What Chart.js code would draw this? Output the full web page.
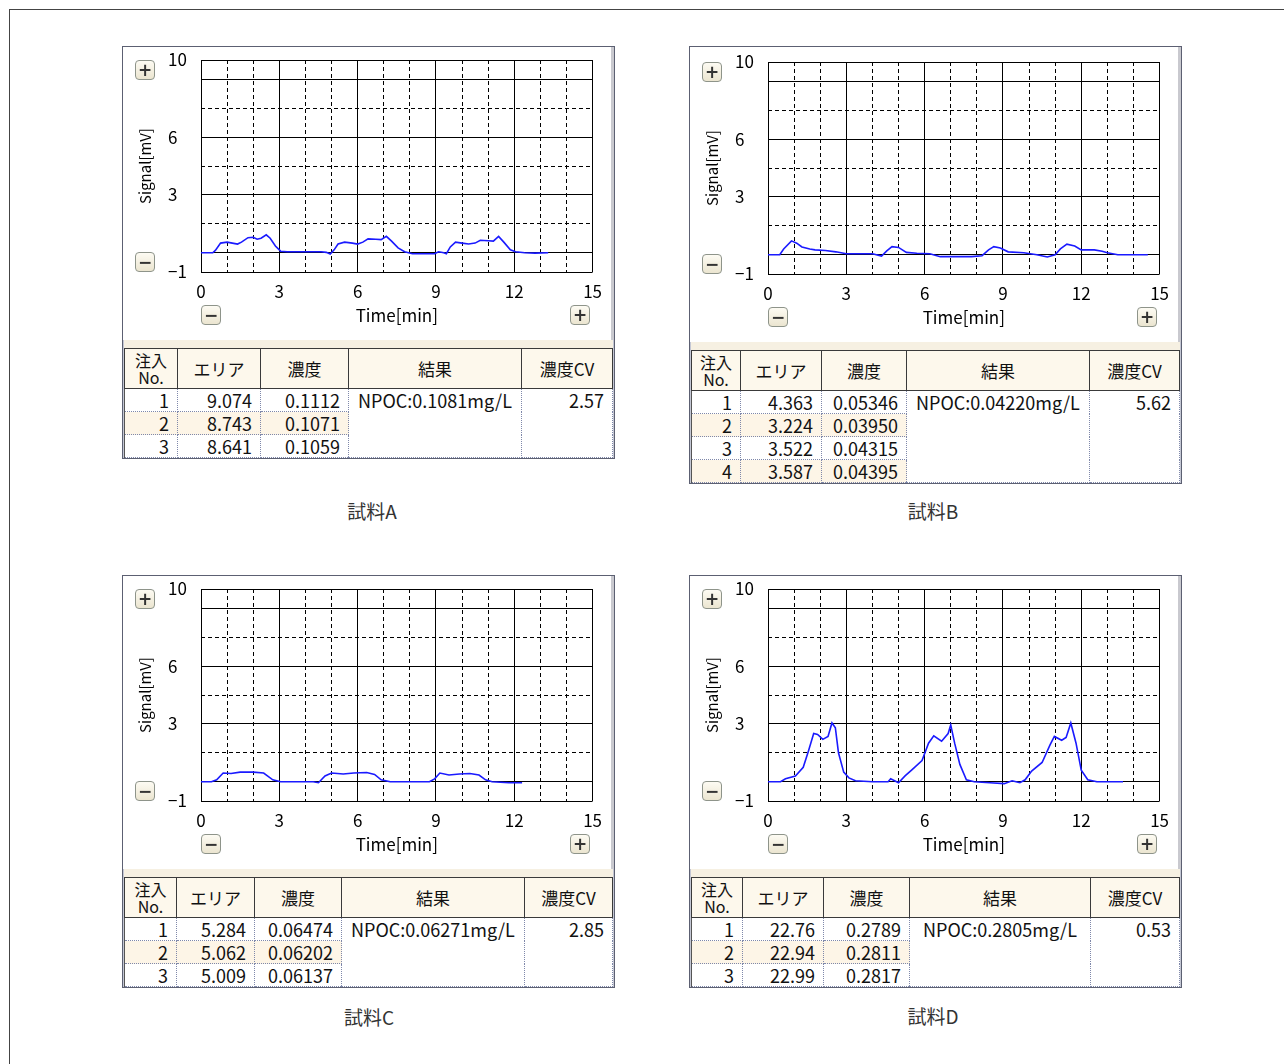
<!DOCTYPE html>
<html lang="ja">
<head>
<meta charset="utf-8">
<script src="https://cdn.jsdelivr.net/npm/chart.js@4.4.0/dist/chart.umd.min.js"></script>
<style>
  body { margin:0; width:1284px; height:1064px; background:#fff; position:relative; overflow:hidden;
         font-family:"Noto Sans CJK JP","Noto Sans",sans-serif; color:#111; }
  .page { position:absolute; left:9px; top:9px; width:1400px; height:1200px; border:1px solid #444; }
  .box { position:absolute; width:491px; border:1px solid #5c6072; box-shadow: inset 0 0 0 1px #c4c7d4; background:#f6f0e2; }
  .plotwrap { position:relative; width:488px; height:293px; background:#fff; border-right:3px solid #c9c9cf; }
  .plotwrap canvas { position:absolute; left:0; top:0; }
  .btn { position:absolute; width:18px; height:18px; border:1px solid #8e948a; border-radius:4px;
         background:linear-gradient(#fdfbf3,#ebe5d0); font:bold 17px/18px "DejaVu Sans",sans-serif; text-align:center; color:#333; }
  .band { height:8px; }
  table { border-collapse:collapse; table-layout:fixed; margin-left:1px; background:#fff; font-size:18px; }
  th { background:#fdf8ec; font-weight:normal; font-size:17px; border:1px solid #3a3a3a; height:39px; padding:0; line-height:20px; }
  th.no { font-size:16px; line-height:17px; }
  td { border-right:1px dotted #7f88aa; border-bottom:1px dotted #7f88aa; height:22px; padding:0 8px 0 0; text-align:right; line-height:22px; white-space:nowrap; }
  td:first-child { border-left:1px solid #555; }
  tr.alt td.c { background:#fdf5e7; }
  td.res { text-align:center; vertical-align:top; padding:0; }
  td.cv { vertical-align:top; }
  .cap { position:absolute; font-size:19px; color:#333; transform:translateX(-50%); line-height:22px; }
</style>
</head>
<body>
<div class="page"></div>
<script>
// 試料A
const timeA = [0, 0.45, 0.55, 0.75, 1.0, 1.2, 1.4, 1.55, 1.8, 2.0,
  2.15, 2.3, 2.5, 2.65, 2.85, 3.05, 3.3, 4.0, 4.6, 4.8,
  4.95, 5.1, 5.25, 5.5, 5.8, 6.0, 6.2, 6.4, 6.7, 6.9,
  7.1, 7.3, 7.55, 7.8, 8.1, 8.6, 8.95, 9.1, 9.3, 9.4,
  9.55, 9.75, 10.0, 10.25, 10.5, 10.7, 11.0, 11.2, 11.4, 11.6,
  11.85, 12.05, 12.4, 12.8, 13.3];
const signalA = [0, 0, 0.12, 0.5, 0.55, 0.5, 0.45, 0.55, 0.78, 0.8,
  0.7, 0.75, 0.93, 0.75, 0.35, 0.08, 0.05, 0.05, 0.05, 0.02,
  -0.07, 0.15, 0.45, 0.55, 0.5, 0.45, 0.55, 0.72, 0.7, 0.68,
  0.85, 0.6, 0.25, 0.05, -0.05, -0.05, -0.05, 0.05, 0, -0.05,
  0.3, 0.55, 0.5, 0.45, 0.5, 0.65, 0.62, 0.6, 0.85, 0.55,
  0.15, 0.05, 0, -0.02, 0];

// 試料B
const timeB = [0, 0.45, 0.6, 0.9, 1.1, 1.3, 1.6, 1.8, 2.2, 2.6,
  3.0, 3.5, 4.0, 4.35, 4.55, 4.75, 5.0, 5.3, 5.7, 6.2,
  6.6, 7.2, 7.8, 8.2, 8.45, 8.65, 8.9, 9.2, 9.8, 10.3,
  10.7, 11.0, 11.2, 11.45, 11.75, 12.0, 12.5, 12.8, 13.0, 13.4,
  14.55];
const signalB = [0, 0, 0.3, 0.72, 0.6, 0.4, 0.3, 0.25, 0.22, 0.15,
  0.05, 0.05, 0.05, -0.07, 0.2, 0.42, 0.38, 0.12, 0.08, 0.05,
  -0.1, -0.1, -0.1, -0.05, 0.25, 0.42, 0.35, 0.15, 0.1, 0,
  -0.12, 0, 0.3, 0.55, 0.45, 0.25, 0.25, 0.18, 0.1, 0,
  0];

// 試料C
const timeC = [0, 0.4, 0.6, 0.85, 1.15, 1.5, 2.0, 2.4, 2.75, 3.05,
  4.3, 4.5, 4.75, 5.0, 5.45, 5.85, 6.35, 6.65, 6.9, 7.25,
  8.75, 8.95, 9.15, 9.5, 9.9, 10.3, 10.65, 10.9, 11.15, 11.8,
  12.3];
const signalC = [0, 0, 0.1, 0.45, 0.43, 0.5, 0.5, 0.45, 0.1, 0,
  0, -0.05, 0.3, 0.45, 0.4, 0.45, 0.48, 0.38, 0.1, 0,
  0, 0.15, 0.45, 0.35, 0.4, 0.43, 0.35, 0.1, 0, -0.05,
  -0.05];

// 試料D
const timeD = [0, 0.48, 0.67, 1.05, 1.35, 1.55, 1.75, 1.9, 2.1, 2.3,
  2.45, 2.58, 2.7, 2.9, 3.1, 3.35, 4.0, 4.6, 4.7, 4.85,
  5.0, 5.25, 5.5, 5.9, 6.15, 6.35, 6.65, 6.9, 7.0, 7.15,
  7.35, 7.6, 7.9, 8.5, 9.05, 9.35, 9.65, 9.85, 10.1, 10.5,
  10.8, 10.97, 11.25, 11.42, 11.6, 11.8, 12.0, 12.25, 12.6, 13.6];
const signalD = [0, 0, 0.15, 0.3, 0.75, 1.6, 2.5, 2.45, 2.2, 2.35,
  3.05, 2.8, 1.5, 0.5, 0.2, 0.05, 0, 0, 0.15, 0.05,
  -0.05, 0.3, 0.6, 1.1, 2.0, 2.38, 2.1, 2.5, 2.95, 2.0,
  0.9, 0.1, 0, -0.05, -0.1, 0.05, -0.05, 0.1, 0.55, 1.0,
  1.9, 2.35, 2.15, 2.3, 3.05, 2.0, 0.6, 0.1, 0, 0];

// table values
const areaA = ['9.074', '8.743', '8.641'];
const concA = ['0.1112', '0.1071', '0.1059'];
const resultA = 'NPOC:0.1081mg/L';
const cvA = '2.57';

const areaB = ['4.363', '3.224', '3.522', '3.587'];
const concB = ['0.05346', '0.03950', '0.04315', '0.04395'];
const resultB = 'NPOC:0.04220mg/L';
const cvB = '5.62';

const areaC = ['5.284', '5.062', '5.009'];
const concC = ['0.06474', '0.06202', '0.06137'];
const resultC = 'NPOC:0.06271mg/L';
const cvC = '2.85';

const areaD = ['22.76', '22.94', '22.99'];
const concD = ['0.2789', '0.2811', '0.2817'];
const resultD = 'NPOC:0.2805mg/L';
const cvD = '0.53';

// axis ticks
const yTicks = [-1, 0, 1.5, 3, 4.5, 6, 7.5, 9, 10];
const yLabels = [-1, 3, 6, 10];
const yMajor = [-1, 0, 3, 6, 9, 10];

const FONT = '"Noto Sans CJK JP", "Noto Sans", sans-serif';

const panels = [
  { left: 122, top: 46, shift: 0, cols: [53, 83, 88, 173, 91], time: timeA, signal: signalA, area: areaA, conc: concA, result: resultA, cv: cvA, caption: '試料A', capX: 372, capY: 500 },
  { left: 689, top: 46, shift: 2, cols: [49, 81, 85, 183, 90], time: timeB, signal: signalB, area: areaB, conc: concB, result: resultB, cv: cvB, caption: '試料B', capX: 933, capY: 500 },
  { left: 122, top: 575, shift: 0, cols: [52, 78, 87, 183, 88], time: timeC, signal: signalC, area: areaC, conc: concC, result: resultC, cv: cvC, caption: '試料C', capX: 369, capY: 1006 },
  { left: 689, top: 575, shift: 0, cols: [51, 81, 86, 181, 89], time: timeD, signal: signalD, area: areaD, conc: concD, result: resultD, cv: cvD, caption: '試料D', capX: 933, capY: 1005 }
];

function buildTable(p) {
  const total = p.cols.reduce((a, b) => a + b, 0);
  let h = '<table style="width:' + total + 'px"><colgroup>' +
    p.cols.map(w => '<col style="width:' + w + 'px">').join('') + '</colgroup>';
  h += '<tr><th class="no">注入<br>No.</th><th>エリア</th><th>濃度</th><th>結果</th><th>濃度CV</th></tr>';
  p.area.forEach((a, i) => {
    h += '<tr' + (i % 2 ? ' class="alt"' : '') + '><td class="c">' + (i + 1) + '</td><td class="c">' + a + '</td><td class="c">' + p.conc[i] + '</td>';
    if (i === 0) {
      h += '<td class="res" rowspan="' + p.area.length + '">' + p.result + '</td>' +
           '<td class="cv" rowspan="' + p.area.length + '">' + p.cv + '</td>';
    }
    h += '</tr>';
  });
  return h + '</table>';
}

function drawChart(canvas, time, signal) {
  return new Chart(canvas, {
    type: 'line',
    data: {
      datasets: [{
        data: time.map((t, i) => ({ x: t, y: signal[i] })),
        borderColor: '#1a1aff',
        borderWidth: 1.6,
        pointRadius: 0,
        fill: false,
        tension: 0
      }]
    },
    options: {
      responsive: false,
      animation: false,
      events: [],
      layout: { padding: { top: 13, right: 18, left: 45, bottom: 0 } },
      plugins: { legend: { display: false }, tooltip: { enabled: false } },
      scales: {
        x: {
          type: 'linear', min: 0, max: 15,
          afterFit: s => { s.height = 68; },
          ticks: {
            stepSize: 1, autoSkip: false, maxRotation: 0, padding: 9, color: '#000',
            font: { size: 17, family: FONT },
            callback: v => (v % 3 === 0 ? String(v) : '')
          },
          grid: { drawTicks: false, color: '#000', lineWidth: 1 },
          border: { display: false, dash: c => (c.tick && c.tick.value % 3 !== 0 ? [4, 3] : []) },
          title: { display: true, text: 'Time[min]', color: '#000', font: { size: 17, family: FONT }, padding: { top: 0, bottom: 14 } }
        },
        y: {
          min: -1, max: 10,
          afterBuildTicks: s => { s.ticks = yTicks.map(v => ({ value: v })); },
          afterFit: s => { s.width = 33; },
          ticks: {
            autoSkip: false, padding: 0, crossAlign: 'far', color: '#000',
            font: { size: 17, family: FONT },
            callback: v => (yLabels.includes(v) ? (v < 0 ? '\u22121' : String(v)) : '')
          },
          grid: { drawTicks: false, color: '#000', lineWidth: 1 },
          border: { display: false, dash: c => (c.tick && !yMajor.includes(c.tick.value) ? [4, 3] : []) },
          title: { display: true, text: 'Signal[mV]', color: '#000', font: { size: 15, family: FONT }, padding: { top: -32, bottom: 0 } }
        }
      }
    }
  });
}

panels.forEach(p => {
  const s = p.shift;
  const box = document.createElement('div');
  box.className = 'box';
  box.style.left = p.left + 'px';
  box.style.top = p.top + 'px';
  box.innerHTML =
    '<div class="plotwrap" style="height:' + (293 + s) + 'px"><canvas width="488" height="293" style="top:' + s + 'px"></canvas>' +
    '<div class="btn" style="left:12px;top:' + (13 + s) + 'px">+</div>' +
    '<div class="btn" style="left:12px;top:' + (205 + s) + 'px">\u2212</div>' +
    '<div class="btn" style="left:78px;top:' + (258 + s) + 'px">\u2212</div>' +
    '<div class="btn" style="left:447px;top:' + (258 + s) + 'px">+</div>' +
    '</div><div class="band"></div>' + buildTable(p);
  document.body.appendChild(box);

  const cap = document.createElement('div');
  cap.className = 'cap';
  cap.style.left = p.capX + 'px';
  cap.style.top = p.capY + 'px';
  cap.textContent = p.caption;
  document.body.appendChild(cap);

  drawChart(box.querySelector('canvas'), p.time, p.signal);
});
</script>
</body>
</html>
